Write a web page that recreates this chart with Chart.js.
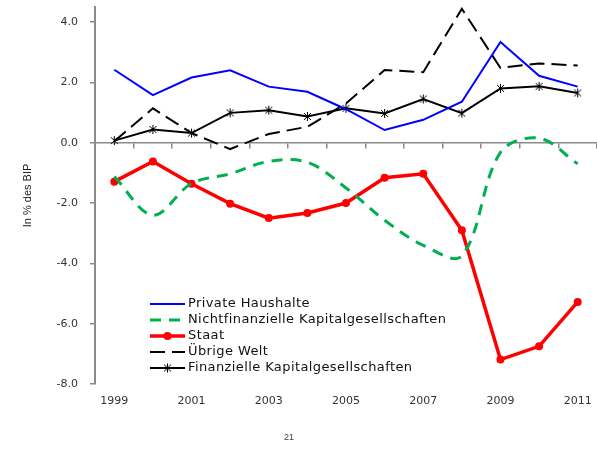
<!DOCTYPE html>
<html>
<head>
<meta charset="utf-8">
<script src="https://cdn.jsdelivr.net/npm/chart.js@4.4.0/dist/chart.umd.min.js"></script>
<style>
html, body { margin: 0; padding: 0; background: #fff; overflow: hidden; width: 597px; height: 450px; }
#wrap { position: relative; width: 604px; height: 450px; }
#page { position: absolute; left: 284px; top: 432px; font: 9px "Liberation Sans", Arial, sans-serif; color: #404040; }
</style>
</head>
<body>
<div id="wrap">
  <canvas id="chart" width="604" height="450"></canvas>
  <div id="page">21</div>
</div>
<script>
// Finanzierungssalden der Sektoren, in % des BIP
const years = ['1999', '2000', '2001', '2002', '2003', '2004', '2005', '2006', '2007', '2008', '2009', '2010', '2011'];
const privateHaushalte = [2.42, 1.58, 2.16, 2.40, 1.86, 1.69, 1.11, 0.42, 0.76, 1.36, 3.34, 2.22, 1.86];
const nichtfinanzielle = [-1.12, -2.40, -1.35, -1.03, -0.62, -0.65, -1.50, -2.57, -3.40, -3.75, -0.32, 0.15, -0.70];
const staat = [-1.29, -0.62, -1.36, -2.02, -2.50, -2.33, -2.00, -1.16, -1.03, -2.90, -7.19, -6.75, -5.28];
const uebrigeWelt = [0.05, 1.14, 0.32, -0.21, 0.29, 0.53, 1.30, 2.41, 2.34, 4.44, 2.48, 2.63, 2.56];
const finanzielle = [0.07, 0.44, 0.32, 0.99, 1.08, 0.87, 1.14, 0.97, 1.45, 0.98, 1.80, 1.87, 1.65];
const yTicks = [-8, -6, -4, -2, 0, 2, 4];

const tickFont = { family: '"DejaVu Sans", sans-serif', size: 11 };
const legendFont = '13px "DejaVu Sans", sans-serif';
const axisGray = '#8a8a8a';

// Sternchen-Marker wie im Original (x mit senkrechtem Strich)
function makeAsterisk() {
    const c = document.createElement('canvas');
    c.width = 11;
    c.height = 11;
    const g = c.getContext('2d');
    g.strokeStyle = '#000';
    g.lineWidth = 1;
    g.beginPath();
    g.moveTo(5.5, 1); g.lineTo(5.5, 10);
    g.moveTo(2, 2); g.lineTo(9, 9);
    g.moveTo(9, 2); g.lineTo(2, 9);
    g.stroke();
    return c;
}
const asterisk = makeAsterisk();

// Legende innerhalb der Zeichenfläche
const insideLegend = {
    id: 'insideLegend',
    afterDraw(chart) {
        const ctx = chart.ctx;
        const area = chart.chartArea;
        const x0 = area.left + 55;
        const x1 = x0 + 35;
        let y = area.bottom - 80;
        ctx.save();
        chart.data.datasets.forEach(ds => {
            ctx.beginPath();
            ctx.strokeStyle = ds.borderColor;
            ctx.lineWidth = ds.borderWidth;
            ctx.setLineDash(ds.borderDash || []);
            ctx.moveTo(x0, y);
            ctx.lineTo(x1, y);
            ctx.stroke();
            ctx.setLineDash([]);
            const mx = (x0 + x1) / 2;
            if (ds.pointStyle === 'circle' && ds.pointRadius > 0) {
                ctx.beginPath();
                ctx.fillStyle = ds.pointBackgroundColor;
                ctx.arc(mx, y, ds.pointRadius, 0, Math.PI * 2);
                ctx.fill();
            } else if (ds.pointStyle === asterisk) {
                ctx.drawImage(asterisk, mx - asterisk.width / 2, y - asterisk.height / 2);
            }
            ctx.fillStyle = '#111';
            ctx.font = legendFont;
            ctx.letterSpacing = '0.4px';
            ctx.textBaseline = 'middle';
            ctx.fillText(ds.label, x1 + 3, y);
            y += 16;
        });
        ctx.restore();
    }
};

new Chart(document.getElementById('chart'), {
    type: 'line',
    data: {
        labels: years,
        datasets: [
            {
                label: 'Private Haushalte',
                data: privateHaushalte,
                borderColor: '#0000ff',
                borderWidth: 2,
                pointRadius: 0,
                tension: 0
            },
            {
                label: 'Nichtfinanzielle Kapitalgesellschaften',
                data: nichtfinanzielle,
                borderColor: '#00b050',
                borderWidth: 3,
                borderDash: [11, 8],
                pointRadius: 0,
                tension: 0.35
            },
            {
                label: 'Staat',
                data: staat,
                borderColor: '#ff0000',
                borderWidth: 3.5,
                pointStyle: 'circle',
                pointRadius: 4,
                pointBackgroundColor: '#ff0000',
                pointBorderColor: '#ff0000',
                pointBorderWidth: 0,
                tension: 0
            },
            {
                label: 'Übrige Welt',
                data: uebrigeWelt,
                borderColor: '#000',
                borderWidth: 2,
                borderDash: [15, 7],
                pointRadius: 0,
                tension: 0
            },
            {
                label: 'Finanzielle Kapitalgesellschaften',
                data: finanzielle,
                borderColor: '#000',
                borderWidth: 2,
                pointStyle: asterisk,
                pointRadius: 5,
                tension: 0
            }
        ]
    },
    options: {
        responsive: false,
        animation: false,
        layout: { padding: { top: 5, right: 0, bottom: 0, left: 0 } },
        plugins: {
            legend: { display: false },
            tooltip: { enabled: false }
        },
        scales: {
            x: {
                type: 'category',
                offset: true,
                grid: { display: false },
                border: { display: false },
                ticks: {
                    autoSkip: false,
                    maxRotation: 0,
                    padding: 3,
                    color: '#333',
                    font: tickFont,
                    callback: (v, i) => (i % 2 === 0 ? years[i] : '')
                },
                afterFit: scale => { scale.height = 66; }
            },
            xZero: {
                type: 'category',
                axis: 'x',
                position: { y: 0 },
                offset: true,
                grid: { offset: true, drawOnChartArea: false, drawTicks: true, tickLength: 5, color: axisGray, lineWidth: 1.5 },
                border: { display: true, color: axisGray, width: 1.5 },
                ticks: { display: false },
                afterFit: scale => { scale.paddingTop = 0; scale.paddingBottom = 0; }
            },
            y: {
                min: -8,
                max: 4.5,
                afterBuildTicks: scale => { scale.ticks = yTicks.map(v => ({ value: v })); },
                grid: { drawOnChartArea: false, drawTicks: true, tickLength: 5, color: axisGray, lineWidth: 1.5 },
                border: { display: true, color: axisGray, width: 2 },
                ticks: {
                    padding: 12,
                    color: '#333',
                    font: tickFont,
                    callback: v => Number(v).toFixed(1)
                },
                title: {
                    display: true,
                    text: 'In % des BIP',
                    color: '#222',
                    font: { family: '"Liberation Sans", Arial, sans-serif', size: 11 },
                    padding: { top: 21, bottom: 0 }
                },
                afterFit: scale => { scale.width = 95; scale.paddingTop = 0; scale.paddingBottom = 0; }
            }
        }
    },
    plugins: [insideLegend]
});
</script>
</body>
</html>
